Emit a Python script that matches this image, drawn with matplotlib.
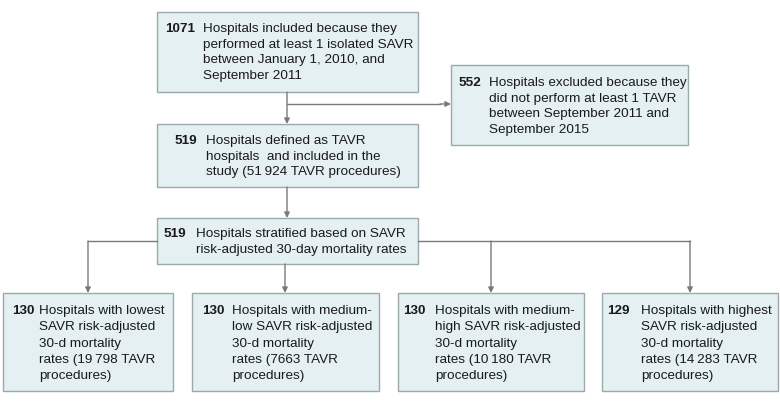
import matplotlib.pyplot as plt
from matplotlib.patches import Rectangle

# Тексти блоків схеми
counts = ["1071", "552", "519", "519", "130", "130", "130", "129"]
labels = [
    "Hospitals included because they\nperformed at least 1 isolated SAVR\nbetween January 1, 2010, and\nSeptember 2011",
    "Hospitals excluded because they\ndid not perform at least 1 TAVR\nbetween September 2011 and\nSeptember 2015",
    "Hospitals defined as TAVR\nhospitals  and included in the\nstudy (51\u2009924 TAVR procedures)",
    "Hospitals stratified based on SAVR\nrisk-adjusted 30-day mortality rates",
    "Hospitals with lowest\nSAVR risk-adjusted\n30-d mortality\nrates (19\u2009798 TAVR\nprocedures)",
    "Hospitals with medium-\nlow SAVR risk-adjusted\n30-d mortality\nrates (7663 TAVR\nprocedures)",
    "Hospitals with medium-\nhigh SAVR risk-adjusted\n30-d mortality\nrates (10\u2009180 TAVR\nprocedures)",
    "Hospitals with highest\nSAVR risk-adjusted\n30-d mortality\nrates (14\u2009283 TAVR\nprocedures)",
]

plt.rcParams['font.family'] = ['Liberation Sans', 'DejaVu Sans']

fill = '#e4f0f2'
edge = '#9caaae'
line = '#7a7a7a'

# (x0, y0, x1, y1, x числа, x тексту, y тексту, міжрядковий інтервал)
boxes = [
    (157, 12, 418, 92, 165, 203, 23, 1.40),
    (451, 65, 688, 145, 459, 489, 77, 1.40),
    (157, 124, 418, 187, 175, 206, 135, 1.40),
    (157, 218, 418, 264, 164, 196, 228, 1.44),
    (3, 293, 173, 391, 12, 39, 305, 1.48),
    (192, 293, 379, 391, 202, 232, 305, 1.48),
    (398, 293, 584, 391, 403, 435, 305, 1.48),
    (602, 293, 778, 391, 607, 641, 305, 1.48),
]

fig = plt.figure(figsize=(7.8, 4.05), dpi=100)
ax = fig.add_axes([0, 0, 1, 1])
ax.set_xlim(0, 780)
ax.set_ylim(405, 0)
ax.axis('off')

for (x0, y0, x1, y1, xn, xt, yt, ls), n, t in zip(boxes, counts, labels):
    ax.add_patch(Rectangle((x0, y0), x1 - x0, y1 - y0, facecolor=fill,
                           edgecolor=edge, linewidth=1.0, zorder=2))
    ax.text(xn, yt, n, fontsize=9.7, fontweight='bold', va='top', ha='left',
            color='#1a1a1a', zorder=3)
    ax.text(xt, yt, t, fontsize=9.7, va='top', ha='left', color='#1a1a1a',
            linespacing=ls, zorder=3)


def arrow(x0, y0, x1, y1):
    ax.annotate('', xy=(x1, y1), xytext=(x0, y0),
                arrowprops=dict(arrowstyle='-|>', color=line, lw=1.0,
                                mutation_scale=8, shrinkA=0, shrinkB=0))


# Зʼєднання
arrow(287, 92, 287, 124)
ax.plot([287, 440], [104, 104], color=line, lw=1.0)
arrow(440, 104, 451, 104)
arrow(287, 187, 287, 218)

centers = [88, 285, 491, 690]
ax.plot([88, 157], [241, 241], color=line, lw=1.0)
ax.plot([418, 690], [241, 241], color=line, lw=1.0)
for c in centers:
    if c == 285:
        arrow(c, 264, c, 293)
    else:
        arrow(c, 241, c, 293)

fig.savefig('out.png', dpi=100, facecolor='white')
